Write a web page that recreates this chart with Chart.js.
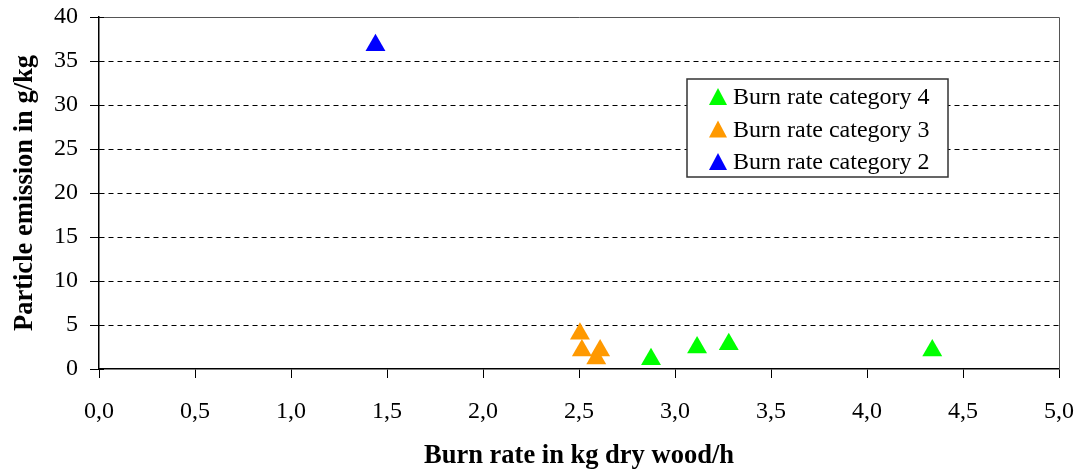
<!DOCTYPE html>
<html>
<head>
<meta charset="utf-8">
<script src="https://cdn.jsdelivr.net/npm/chart.js@4"></script>
<style>
  html, body { margin: 0; padding: 0; background: #fff; }
  #wrap { width: 1077px; height: 472px; }
</style>
</head>
<body>
<div id="wrap"><canvas id="scatter" width="1077" height="472"></canvas></div>
<script>
// burn rate (kg dry wood/h) vs particle emission (g/kg)
var seriesNames = ['Burn rate category 4', 'Burn rate category 3', 'Burn rate category 2'];
var seriesColors = ['#00ff00', '#ff9900', '#0000ff'];

var cat4X = [2.875, 3.115, 3.28, 4.34];
var cat4Y = [1.1, 2.45, 2.8, 2.1];
var cat3X = [2.505, 2.515, 2.61, 2.59];
var cat3Y = [4.0, 2.1, 2.1, 1.2];
var cat2X = [1.44];
var cat2Y = [36.8];

var xTicks = [0, 0.5, 1, 1.5, 2, 2.5, 3, 3.5, 4, 4.5, 5];
var yTicks = [0, 5, 10, 15, 20, 25, 30, 35, 40];

function toPoints(xs, ys) {
    return xs.map(function (x, i) { return { x: x, y: ys[i] }; });
}

var serif = '"Liberation Serif", "Times New Roman", serif';

// top/right frame, small inner y ticks and the boxed legend
var framePlugin = {
    id: 'frame',
    afterDraw: function (chart) {
        var ctx = chart.ctx;
        var a = chart.chartArea;
        var ys = chart.scales.y;
        ctx.save();
        ctx.strokeStyle = '#555';
        ctx.lineWidth = 1;
        ctx.beginPath();
        ctx.moveTo(a.left, a.top + 0.5);
        ctx.lineTo(a.right + 0.5, a.top + 0.5);
        ctx.lineTo(a.right + 0.5, a.bottom);
        ctx.stroke();

        ctx.strokeStyle = '#000';
        ctx.beginPath();
        yTicks.forEach(function (v) {
            var py = Math.round(ys.getPixelForValue(v)) + 0.5;
            ctx.moveTo(a.left, py);
            ctx.lineTo(a.left + 5, py);
        });
        ctx.stroke();

        // legend box
        var bx = 687, by = 79, bw = 261, bh = 98;
        ctx.fillStyle = '#fff';
        ctx.fillRect(bx, by, bw, bh);
        ctx.strokeStyle = '#333';
        ctx.lineWidth = 1.5;
        ctx.strokeRect(bx, by, bw, bh);
        ctx.font = '24px ' + serif;
        ctx.textBaseline = 'middle';
        ctx.textAlign = 'left';
        chart.data.datasets.forEach(function (ds, i) {
            var cy = 97 + i * 32.5;
            ctx.fillStyle = ds.backgroundColor;
            ctx.beginPath();
            ctx.moveTo(718, cy - 9);
            ctx.lineTo(718 + 9, cy + 8);
            ctx.lineTo(718 - 9, cy + 8);
            ctx.closePath();
            ctx.fill();
            ctx.fillStyle = '#000';
            ctx.fillText(ds.label, 733, cy + 1);
        });
        ctx.restore();
    }
};

var ctx = document.getElementById('scatter').getContext('2d');
var myChart = new Chart(ctx, {
    type: 'scatter',
    data: {
        datasets: [
            { label: seriesNames[0], data: toPoints(cat4X, cat4Y), backgroundColor: seriesColors[0] },
            { label: seriesNames[1], data: toPoints(cat3X, cat3Y), backgroundColor: seriesColors[1] },
            { label: seriesNames[2], data: toPoints(cat2X, cat2Y), backgroundColor: seriesColors[2] }
        ]
    },
    options: {
        responsive: false,
        animation: false,
        layout: { padding: { top: 17, right: 18, left: 0, bottom: 0 } },
        elements: {
            point: { pointStyle: 'triangle', radius: 11.5, hoverRadius: 11.5, borderWidth: 0 }
        },
        plugins: {
            legend: { display: false },
            tooltip: { enabled: false }
        },
        scales: {
            x: {
                type: 'linear',
                min: 0,
                max: 5,
                afterBuildTicks: function (scale) {
                    scale.ticks = xTicks.map(function (v) { return { value: v }; });
                },
                afterFit: function (scale) {
                    scale.height = 103;
                    scale.paddingLeft = 0;
                    scale.paddingRight = 0;
                },
                grid: { drawOnChartArea: false, drawTicks: true, tickLength: 9, tickColor: '#000', tickWidth: 1 },
                border: { color: '#000', width: 1.5 },
                ticks: {
                    color: '#000',
                    padding: 19,
                    maxRotation: 0,
                    font: { family: serif, size: 24 },
                    callback: function (v) { return v.toFixed(1).replace('.', ','); }
                },
                title: {
                    display: true,
                    text: 'Burn rate in kg dry wood/h',
                    color: '#000',
                    font: { family: serif, size: 26.5, weight: 'bold' },
                    padding: { top: 0, bottom: 0 }
                }
            },
            y: {
                type: 'linear',
                min: 0,
                max: 40,
                afterBuildTicks: function (scale) {
                    scale.ticks = yTicks.map(function (v) { return { value: v }; });
                },
                afterFit: function (scale) {
                    scale.width = 99;
                    scale.paddingTop = 0;
                    scale.paddingBottom = 0;
                },
                grid: {
                    color: function (c) {
                        var v = c.tick ? c.tick.value : 0;
                        return (v === 0 || v === 40) ? 'rgba(0,0,0,0)' : '#000';
                    },
                    lineWidth: 1,
                    tickLength: 9,
                    tickColor: '#000',
                    tickWidth: 1
                },
                border: { color: '#000', width: 1.5, dash: [5, 4] },
                ticks: {
                    color: '#000',
                    padding: 12,
                    font: { family: serif, size: 24 }
                },
                title: {
                    display: true,
                    text: 'Particle emission in g/kg',
                    color: '#000',
                    font: { family: serif, size: 26.5, weight: 'bold' },
                    padding: { top: 9, bottom: 0 }
                }
            }
        }
    },
    plugins: [framePlugin]
});
</script>
</body>
</html>
